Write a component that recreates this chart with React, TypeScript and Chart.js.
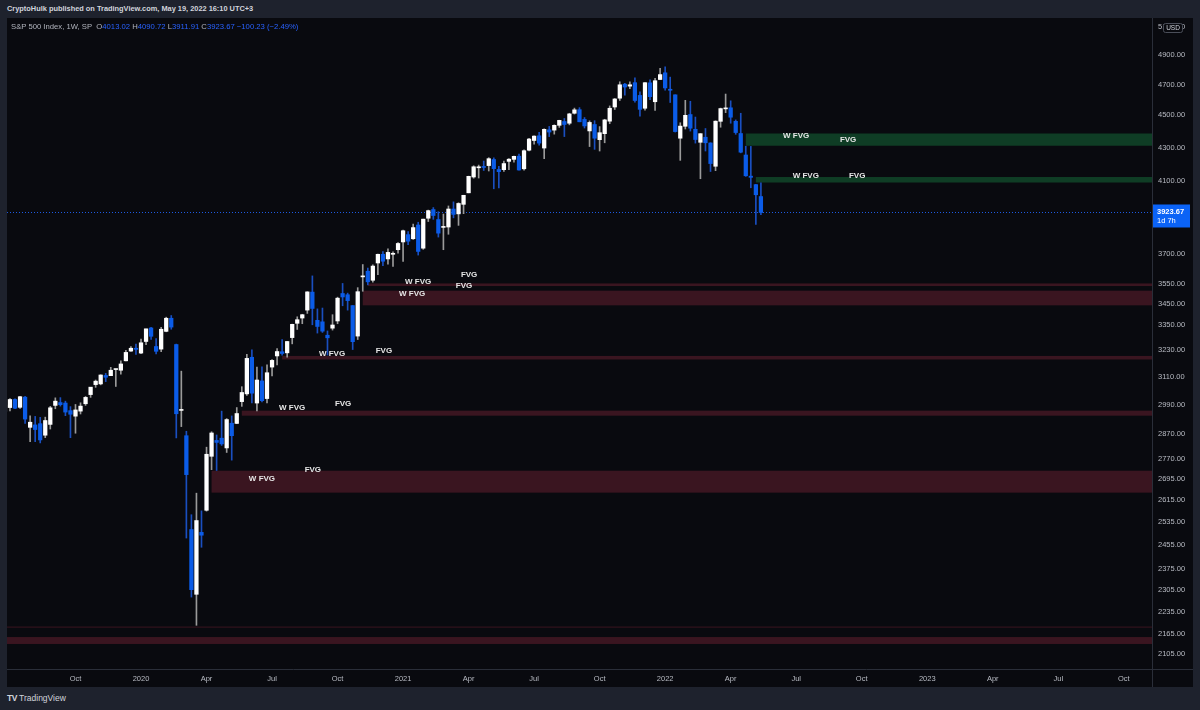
import React, { useEffect, useRef } from 'react';
import { Chart, registerables } from 'chart.js';

Chart.register(...registerables);

// Weekly S&P 500 bars; index 0 = week of 2019-07-01, index 150 = week of 2022-05-16
const opens = [
  2964, 2980, 3014, 2981, 3024, 2898, 2908, 2913, 2866, 2910,
  2989, 3001, 2999, 2967, 2944, 2965, 2996, 3035, 3078, 3081,
  3118, 3117, 3144, 3141, 3183, 3227, 3240, 3218, 3271, 3334,
  3248, 3236, 3318, 3380, 3257, 2968, 2864, 2509, 2290, 2499,
  2578, 2782, 2845, 2854, 2815, 2915, 2914, 3005, 3038, 3199,
  2999, 3094, 3018, 3155, 3205, 3224, 3219, 3289, 3356, 3381,
  3419, 3507, 3370, 3363, 3300, 3333, 3367, 3500, 3494, 3441,
  3296, 3583, 3612, 3566, 3654, 3699, 3675, 3699, 3723, 3764,
  3803, 3781, 3855, 3731, 3892, 3940, 3885, 3842, 3844, 3943,
  3916, 3969, 4034, 4125, 4179, 4185, 4192, 4228, 4169, 4168,
  4217, 4229, 4248, 4173, 4284, 4343, 4372, 4297, 4409, 4407,
  4437, 4461, 4450, 4513, 4536, 4474, 4402, 4442, 4348, 4385,
  4463, 4553, 4610, 4702, 4689, 4712, 4628, 4545, 4711, 4587,
  4733, 4778, 4668, 4632, 4357, 4431, 4505, 4412, 4332, 4363,
  4328, 4188, 4462, 4541, 4548, 4462, 4386, 4255, 4130, 4081,
  4013.02,
];
const highs = [
  2996, 3018, 3017, 3028, 3028, 2945, 2943, 2939, 2940, 2985,
  3021, 3022, 3007, 2984, 2993, 3000, 3027, 3066, 3098, 3121,
  3127, 3154, 3146, 3183, 3231, 3248, 3259, 3282, 3329, 3337,
  3285, 3337, 3385, 3393, 3259, 3137, 2882, 2562, 2641, 2576,
  2818, 2880, 2867, 2965, 2934, 2945, 2980, 3069, 3212, 3233,
  3155, 3156, 3165, 3189, 3238, 3280, 3272, 3352, 3387, 3399,
  3509, 3588, 3425, 3429, 3320, 3397, 3482, 3550, 3502, 3441,
  3529, 3646, 3628, 3645, 3700, 3713, 3727, 3712, 3760, 3827,
  3819, 3860, 3870, 3887, 3937, 3951, 3928, 3915, 3960, 3983,
  3978, 4020, 4130, 4191, 4195, 4219, 4239, 4238, 4188, 4219,
  4234, 4249, 4261, 4286, 4356, 4372, 4393, 4415, 4430, 4440,
  4469, 4480, 4513, 4546, 4549, 4486, 4465, 4466, 4429, 4475,
  4560, 4608, 4718, 4708, 4718, 4744, 4652, 4713, 4731, 4741,
  4808, 4819, 4749, 4632, 4453, 4596, 4590, 4489, 4385, 4417,
  4329, 4465, 4546, 4637, 4593, 4471, 4513, 4308, 4307, 4082,
  4090.72,
];
const lows = [
  2952, 2966, 2975, 2976, 2914, 2840, 2840, 2835, 2856, 2891,
  2975, 2986, 2946, 2856, 2874, 2953, 2989, 3023, 3066, 3077,
  3091, 3117, 3070, 3124, 3183, 3226, 3212, 3215, 3256, 3280,
  3214, 3224, 3316, 3328, 2855, 2901, 2479, 2281, 2192, 2447,
  2575, 2730, 2727, 2825, 2797, 2767, 2913, 2985, 3031, 2999,
  2966, 3004, 3000, 3116, 3165, 3208, 3200, 3260, 3327, 3354,
  3403, 3349, 3310, 3313, 3209, 3324, 3354, 3440, 3419, 3234,
  3280, 3511, 3543, 3556, 3594, 3640, 3648, 3636, 3705, 3662,
  3749, 3777, 3695, 3725, 3874, 3886, 3790, 3723, 3805, 3894,
  3853, 3917, 4034, 4118, 4119, 4163, 4160, 4057, 4062, 4158,
  4168, 4212, 4165, 4165, 4279, 4321, 4315, 4233, 4367, 4382,
  4424, 4367, 4440, 4508, 4459, 4420, 4306, 4289, 4279, 4329,
  4447, 4537, 4595, 4630, 4672, 4585, 4495, 4532, 4600, 4531,
  4733, 4662, 4582, 4395, 4223, 4414, 4401, 4327, 4115, 4279,
  4157, 4162, 4425, 4517, 4450, 4381, 4268, 4129, 4063, 3858,
  3911.91,
];
const closes = [
  2990, 3014, 2977, 3026, 2932, 2919, 2889, 2847, 2926, 2979,
  3007, 2992, 2961, 2952, 2970, 2986, 3023, 3067, 3093, 3120,
  3110, 3141, 3146, 3169, 3221, 3240, 3235, 3265, 3330, 3295,
  3226, 3328, 3380, 3338, 2954, 2972, 2711, 2305, 2541, 2489,
  2790, 2875, 2837, 2831, 2930, 2864, 2955, 3044, 3194, 3041,
  3098, 3009, 3130, 3185, 3225, 3216, 3271, 3351, 3373, 3397,
  3508, 3427, 3341, 3319, 3288, 3348, 3477, 3483, 3465, 3270,
  3509, 3585, 3558, 3638, 3699, 3663, 3709, 3703, 3756, 3824,
  3768, 3841, 3714, 3887, 3934, 3907, 3811, 3842, 3943, 3913,
  3974, 4020, 4129, 4185, 4180, 4181, 4233, 4174, 4156, 4204,
  4230, 4247, 4166, 4281, 4352, 4370, 4327, 4412, 4395, 4437,
  4468, 4442, 4509, 4535, 4459, 4433, 4455, 4357, 4391, 4471,
  4545, 4605, 4698, 4683, 4698, 4595, 4538, 4712, 4620, 4725,
  4766, 4677, 4662, 4398, 4432, 4500, 4419, 4349, 4385, 4329,
  4204, 4463, 4543, 4546, 4488, 4392, 4272, 4132, 4123, 4023,
  3923.67,
];

// time axis (week index of first bar of each month/year shown)
const xTickWeeks = [14, 27, 40, 53, 66, 79, 92, 105, 118, 131, 144, 157, 170, 183, 196, 209, 222];
const xTickLabels = ['Oct', '2020', 'Apr', 'Jul', 'Oct', '2021', 'Apr', 'Jul', 'Oct', '2022', 'Apr', 'Jul', 'Oct', '2023', 'Apr', 'Jul', 'Oct'];
const xMinWeek = 0.41;
const xMaxWeek = 227.6;

// price axis
const yTickValues = [2105, 2165, 2235, 2305, 2375, 2455, 2535, 2615, 2695, 2770, 2870, 2990, 3110, 3230, 3350, 3450, 3550, 3700, 4100, 4300, 4500, 4700, 4900, 5100];
const yMin = 2061;
const yMax = 5162;

// fair value gap zones
const zoneStartWeek = [147, 149, 72, 71, 55, 47, 41, -5, -5];
const zoneTop = [4386, 4125, 3550, 3514, 3205, 2967, 2726, 2156, 2188];
const zoneBottom = [4311, 4093, 3537, 3442, 3189, 2946, 2643, 2135, 2185];
const zoneIsBull = [true, true, false, false, false, false, false, false, false];

const zoneLabelText = ['W FVG', 'FVG', 'W FVG', 'FVG', 'W FVG', 'FVG', 'W FVG', 'FVG', 'W FVG', 'FVG', 'W FVG', 'FVG', 'W FVG', 'FVG'];
const zoneLabelWeek = [157, 167.3, 158.9, 169.1, 82.0, 92.1, 80.8, 91.1, 64.9, 75.2, 57.0, 67.1, 51.0, 61.1];
const zoneLabelPrice = [4371, 4346, 4131, 4131, 3558, 3593, 3498, 3537, 3215, 3228, 2977, 2994, 2697, 2729];

const lastPrice = 3923.67;
const lastPriceText = '3923.67';
const countdownText = '1d 7h';

const UP_BODY = '#ffffff';
const UP_WICK = '#9a9a9a';
const DOWN_BODY = '#0b5ce8';
const DOWN_WICK = '#1a4fc0';
const BULL_ZONE = '#0f3d25';
const BEAR_ZONE = '#3a1520';
const FRAME = '#1e222d';
const PLOT_BG = '#090a0f';
const SEP = '#2a2e39';
const AXIS_TEXT = '#b8bbc3';
const FONT = "'Liberation Sans', Arial, sans-serif";

export default function App() {
  const canvasRef = useRef<HTMLCanvasElement | null>(null);

  useEffect(() => {
    const canvas = canvasRef.current;
    if (!canvas) return;

    const isUp = (i: number) => closes[i] >= opens[i];

    const wickData = lows.map((l, i) => ({ x: i, y: [l, highs[i]] }));
    const bodyData = opens.map((o, i) => ({ x: i, y: [Math.min(o, closes[i]), Math.max(o, closes[i])] }));

    const overlay = {
      id: 'overlay',
      beforeDraw(chart: any) {
        const { ctx } = chart;
        ctx.save();
        ctx.fillStyle = PLOT_BG;
        ctx.fillRect(0, 0, chart.width, chart.height);
        ctx.restore();
      },
      beforeDatasetsDraw(chart: any) {
        const { ctx, chartArea, scales } = chart;
        const xs = scales.x;
        const ys = scales.y;
        ctx.save();
        ctx.beginPath();
        ctx.rect(chartArea.left, chartArea.top, chartArea.right - chartArea.left, chartArea.bottom - chartArea.top);
        ctx.clip();
        zoneStartWeek.forEach((w, k) => {
          const x0 = Math.max(chartArea.left, xs.getPixelForValue(w));
          const yT = ys.getPixelForValue(zoneTop[k]);
          const yB = ys.getPixelForValue(zoneBottom[k]);
          ctx.fillStyle = zoneIsBull[k] ? BULL_ZONE : BEAR_ZONE;
          ctx.fillRect(x0, yT, chartArea.right - x0, Math.max(1, yB - yT));
        });
        const yP = Math.round(ys.getPixelForValue(lastPrice)) + 0.5;
        ctx.strokeStyle = '#1d5ae0';
        ctx.lineWidth = 1;
        ctx.setLineDash([1, 2]);
        ctx.beginPath();
        ctx.moveTo(chartArea.left, yP);
        ctx.lineTo(chartArea.right, yP);
        ctx.stroke();
        ctx.restore();
      },
      afterDatasetsDraw(chart: any) {
        const { ctx, scales } = chart;
        const xs = scales.x;
        const ys = scales.y;
        ctx.save();
        ctx.fillStyle = '#e6e6e6';
        ctx.font = `bold 8px ${FONT}`;
        ctx.textAlign = 'center';
        ctx.textBaseline = 'middle';
        zoneLabelText.forEach((t, k) => {
          ctx.fillText(t, xs.getPixelForValue(zoneLabelWeek[k]), ys.getPixelForValue(zoneLabelPrice[k]));
        });
        ctx.restore();
      },
      afterDraw(chart: any) {
        const { ctx, chartArea, scales } = chart;
        const ys = scales.y;
        ctx.save();
        ctx.strokeStyle = SEP;
        ctx.lineWidth = 1;
        ctx.beginPath();
        ctx.moveTo(chartArea.right, Math.round(chartArea.bottom) + 0.5);
        ctx.lineTo(chart.width, Math.round(chartArea.bottom) + 0.5);
        ctx.moveTo(Math.round(chartArea.right) + 0.5, chartArea.bottom);
        ctx.lineTo(Math.round(chartArea.right) + 0.5, chart.height);
        ctx.stroke();
        // last price label
        const yP = ys.getPixelForValue(lastPrice);
        ctx.fillStyle = '#0b63f6';
        ctx.fillRect(chartArea.right + 1, yP - 8, 37, 23);
        ctx.fillStyle = '#ffffff';
        ctx.font = `bold 7.5px ${FONT}`;
        ctx.textAlign = 'left';
        ctx.textBaseline = 'middle';
        ctx.fillText(lastPriceText, chartArea.right + 5, yP - 1);
        ctx.font = `7.5px ${FONT}`;
        ctx.fillText(countdownText, chartArea.right + 5, yP + 8.5);
        // currency badge
        const bx = chartArea.right + 11.5;
        const by = 5.5;
        ctx.fillStyle = PLOT_BG;
        ctx.strokeStyle = '#4a4e59';
        ctx.beginPath();
        (ctx as any).roundRect(bx, by, 19, 9, 2);
        ctx.fill();
        ctx.stroke();
        ctx.fillStyle = '#d1d4dc';
        ctx.font = `6.5px ${FONT}`;
        ctx.textAlign = 'center';
        ctx.fillText('USD', bx + 9.5, by + 4.8);
        ctx.restore();
      },
    };

    const chart = new Chart(canvas, {
      type: 'bar',
      data: {
        datasets: [
          {
            label: 'wicks',
            data: wickData as any,
            backgroundColor: (c: any) => (isUp(c.dataIndex) ? UP_WICK : DOWN_WICK),
            barThickness: 1,
            grouped: false,
            order: 2,
          } as any,
          {
            label: 'bodies',
            data: bodyData as any,
            backgroundColor: (c: any) => (isUp(c.dataIndex) ? UP_BODY : DOWN_BODY),
            barThickness: 3.6,
            minBarLength: 1,
            grouped: false,
            order: 1,
          } as any,
        ],
      },
      options: {
        responsive: false,
        animation: false,
        layout: { padding: 0 },
        plugins: {
          legend: { display: false },
          tooltip: { enabled: false },
          title: { display: false },
        },
        scales: {
          x: {
            type: 'linear',
            min: xMinWeek,
            max: xMaxWeek,
            offset: false,
            grid: { display: false, drawTicks: false },
            border: { display: true, color: SEP },
            afterBuildTicks: (scale: any) => {
              scale.ticks = xTickWeeks.map((v) => ({ value: v }));
            },
            afterFit: (scale: any) => {
              scale.height = 18;
              scale.paddingLeft = 0;
              scale.paddingRight = 0;
            },
            ticks: {
              autoSkip: false,
              maxRotation: 0,
              padding: 5,
              color: AXIS_TEXT,
              font: { family: FONT, size: 7.5 },
              callback: (v: any) => {
                const k = xTickWeeks.indexOf(Number(v));
                return k >= 0 ? xTickLabels[k] : '';
              },
            },
          },
          y: {
            type: 'logarithmic',
            position: 'right',
            min: yMin,
            max: yMax,
            grid: { display: false, drawTicks: false },
            border: { display: true, color: SEP },
            afterBuildTicks: (scale: any) => {
              scale.ticks = yTickValues.map((v) => ({ value: v }));
            },
            afterFit: (scale: any) => {
              scale.width = 41;
              scale.paddingTop = 0;
              scale.paddingBottom = 0;
            },
            ticks: {
              autoSkip: false,
              padding: 6,
              color: AXIS_TEXT,
              font: { family: FONT, size: 7.5 },
              callback: (v: any) => Number(v).toFixed(2),
            },
          },
        },
      } as any,
      plugins: [overlay],
    });

    return () => chart.destroy();
  }, []);

  const blue = { color: '#2962ff' };
  return (
    <div style={{ position: 'absolute', left: 0, top: 0, width: 1200, height: 710, background: FRAME, overflow: 'hidden', fontFamily: FONT }}>
      <div style={{ position: 'absolute', left: 7, top: 4, fontSize: 7.4, fontWeight: 'bold', color: '#d1d4dc', whiteSpace: 'nowrap', lineHeight: '10px' }}>
        CryptoHulk published on TradingView.com, May 19, 2022 16:10 UTC+3
      </div>
      <canvas
        ref={canvasRef}
        width={1186}
        height={669}
        style={{ position: 'absolute', left: 7, top: 18, width: 1186, height: 669 }}
      />
      <div style={{ position: 'absolute', left: 11, top: 22, fontSize: 7.7, color: '#b2b5be', whiteSpace: 'nowrap', lineHeight: '10px' }}>
        S&amp;P 500 Index, 1W, SP&nbsp;&nbsp;O<span style={blue}>4013.02</span>&nbsp;H<span style={blue}>4090.72</span>&nbsp;L<span style={blue}>3911.91</span>&nbsp;C<span style={blue}>3923.67</span>&nbsp;<span style={blue}>−100.23 (−2.49%)</span>
      </div>
      <div style={{ position: 'absolute', left: 7, top: 693, fontSize: 8.5, color: '#d1d4dc', whiteSpace: 'nowrap', lineHeight: '10px' }}>
        <span style={{ fontWeight: 'bold', letterSpacing: -0.5 }}>TV</span> TradingView
      </div>
    </div>
  );
}
